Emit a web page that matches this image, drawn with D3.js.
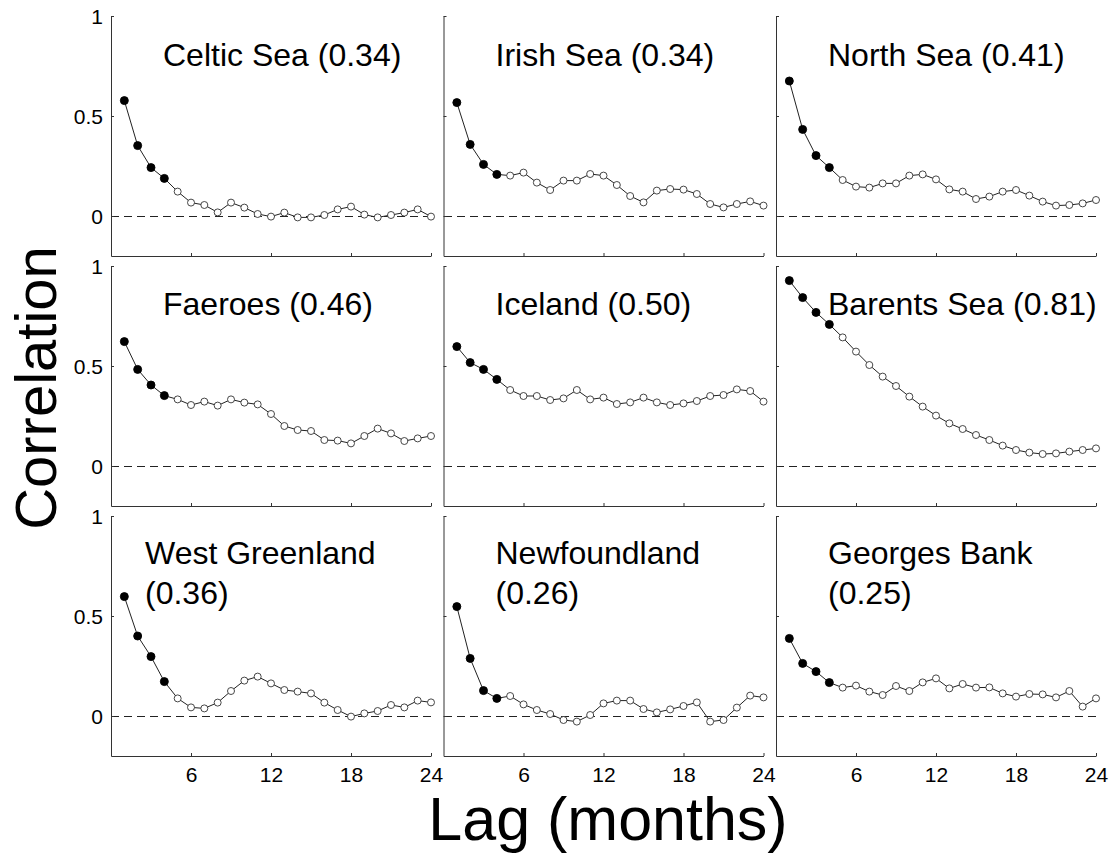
<!DOCTYPE html>
<html><head><meta charset="utf-8">
<script src="https://cdn.jsdelivr.net/npm/d3@7"></script>
<style>body{margin:0;background:#fff}svg{display:block}text{font-family:"Liberation Sans",Arial,sans-serif;fill:#000}</style>
</head><body><svg id="c" width="1115" height="854"></svg>
<script>
const lags = d3.range(1, 25);
const regions = ["Celtic Sea","Irish Sea","North Sea","Faeroes","Iceland","Barents Sea","West Greenland","Newfoundland","Georges Bank"];
const titleLine1 = ["Celtic Sea (0.34)","Irish Sea (0.34)","North Sea (0.41)","Faeroes (0.46)","Iceland (0.50)","Barents Sea (0.81)","West Greenland","Newfoundland","Georges Bank"];
const titleLine2 = ["","","","","","","(0.36)","(0.26)","(0.25)"];
const significantCount = [4,4,4,4,4,4,4,4,4];
const celticSea = [0.577,0.352,0.242,0.188,0.122,0.067,0.055,0.018,0.067,0.042,0.010,-0.003,0.017,-0.007,-0.007,0.005,0.033,0.047,0.007,-0.007,0.005,0.017,0.033,-0.003];
const irishSea = [0.567,0.358,0.258,0.208,0.202,0.217,0.167,0.130,0.177,0.177,0.210,0.202,0.155,0.100,0.068,0.127,0.135,0.132,0.110,0.060,0.043,0.060,0.073,0.052];
const northSea = [0.675,0.433,0.302,0.242,0.180,0.147,0.142,0.163,0.163,0.202,0.208,0.183,0.133,0.122,0.085,0.097,0.122,0.130,0.102,0.072,0.052,0.055,0.063,0.080];
const faeroes = [0.622,0.483,0.405,0.352,0.333,0.305,0.322,0.302,0.333,0.317,0.308,0.260,0.200,0.180,0.175,0.130,0.127,0.113,0.150,0.187,0.163,0.125,0.138,0.150];
const iceland = [0.597,0.517,0.483,0.433,0.380,0.350,0.350,0.330,0.338,0.380,0.333,0.342,0.310,0.318,0.342,0.318,0.305,0.313,0.325,0.350,0.355,0.383,0.375,0.322];
const barentsSea = [0.927,0.842,0.768,0.708,0.643,0.572,0.505,0.447,0.400,0.347,0.297,0.252,0.213,0.185,0.155,0.130,0.102,0.080,0.067,0.060,0.063,0.072,0.080,0.088];
const westGreenland = [0.597,0.400,0.297,0.172,0.088,0.043,0.038,0.067,0.125,0.177,0.197,0.163,0.130,0.122,0.113,0.067,0.030,-0.003,0.013,0.025,0.055,0.043,0.077,0.068];
const newfoundland = [0.547,0.288,0.127,0.088,0.100,0.058,0.030,0.010,-0.020,-0.028,0.005,0.063,0.077,0.077,0.035,0.018,0.033,0.050,0.068,-0.028,-0.020,0.042,0.102,0.093];
const georgesBank = [0.388,0.263,0.222,0.167,0.142,0.152,0.122,0.105,0.150,0.125,0.168,0.188,0.138,0.160,0.142,0.143,0.113,0.097,0.110,0.108,0.093,0.125,0.047,0.088];
const series = [celticSea,irishSea,northSea,faeroes,iceland,barentsSea,westGreenland,newfoundland,georgesBank];
const xTicks = [6,12,18,24];
const yTicks = [0,0.5,1];
const yTickLabels = ["0","0.5","1"];

const svg = d3.select("#c");
const pw = 320, ph = 240;
const colX = [111, 443.5, 776];
const rowY = [16, 266, 516];
const axisColor = "#333";

series.forEach((vals, i) => {
  const col = i % 3, row = Math.floor(i / 3);
  const g = svg.append("g").attr("transform", `translate(${colX[col]},${rowY[row]})`);
  const x = d3.scaleLinear().domain([0, 24]).range([0, pw]);
  const y = d3.scaleLinear().domain([-0.2, 1]).range([ph, 0]);

  // zero dashed line
  g.append("line").attr("x1", x(0)).attr("x2", x(24)).attr("y1", y(0) + 0.5).attr("y2", y(0) + 0.5)
    .attr("stroke", "#222").attr("stroke-width", 1).attr("stroke-dasharray", "8,5")
    .attr("shape-rendering", "crispEdges");

  // axes
  const ya = d3.axisLeft(y).tickValues(yTicks).tickSizeInner(-3).tickSizeOuter(0)
    .tickFormat((d, k) => col === 0 ? yTickLabels[k] : "");
  const yg = g.append("g").call(ya);
  const xa = d3.axisBottom(x).tickValues(xTicks).tickSizeInner(-3).tickSizeOuter(0)
    .tickFormat(d => row === 2 ? d : "");
  const xg = g.append("g").attr("transform", `translate(0,${ph})`).call(xa);
  [yg, xg].forEach(a => {
    a.select(".domain").attr("stroke", axisColor);
    a.selectAll(".tick line").attr("stroke", axisColor);
    a.selectAll("text").attr("font-size", 21).attr("font-family", '"Liberation Sans",Arial,sans-serif').attr("fill", "#000");
  });
  yg.selectAll("text").attr("x", -8).attr("dy", "0.36em");
  xg.selectAll("text").attr("y", 11).attr("dy", "0.71em");

  // line
  const pts = lags.map((l, k) => ({l, v: vals[k], sig: k < significantCount[i]}));
  g.append("path").datum(pts)
    .attr("d", d3.line().x(d => x(d.l)).y(d => y(d.v)))
    .attr("fill", "none").attr("stroke", "#222").attr("stroke-width", 1);
  g.selectAll("circle").data(pts).join("circle")
    .attr("cx", d => x(d.l)).attr("cy", d => y(d.v))
    .attr("r", d => d.sig ? 4 : 3.5)
    .attr("fill", d => d.sig ? "#000" : "#fff")
    .attr("stroke", d => d.sig ? "#000" : "#333").attr("stroke-width", 0.9);

  // title
  const tx = (i === 6) ? 34 : 52;
  g.append("text").attr("x", tx).attr("y", row === 2 ? 48 : (row === 1 ? 49 : 50))
    .attr("font-size", 32).text(titleLine1[i]);
  if (titleLine2[i]) {
    g.append("text").attr("x", tx).attr("y", 88).attr("font-size", 32).text(titleLine2[i]);
  }
});

svg.append("text").attr("x", 608).attr("y", 840).attr("text-anchor", "middle")
  .attr("font-size", 61).text("Lag (months)");
svg.append("text").attr("transform", "translate(56,388) rotate(-90)").attr("text-anchor", "middle")
  .attr("font-size", 58).text("Correlation");
</script></body></html>
